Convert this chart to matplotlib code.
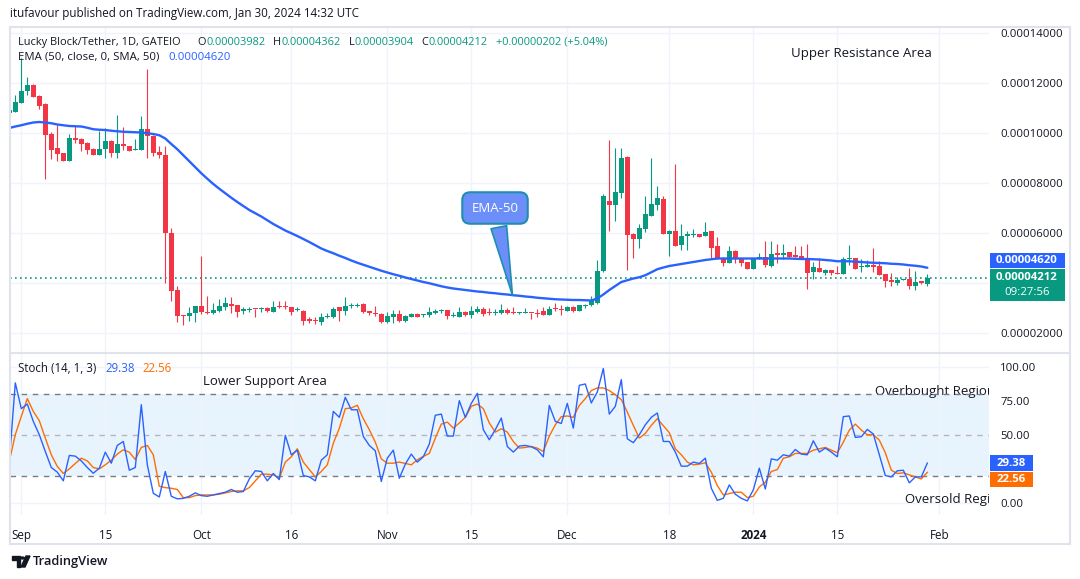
import matplotlib
matplotlib.use("Agg")
import matplotlib.pyplot as plt
import matplotlib.dates as mdates
from matplotlib.patches import Rectangle, Polygon, Circle
import numpy as np
import pandas as pd

plt.rcParams['font.family'] = ['Open Sans', 'DejaVu Sans']

# daily candles from 2023-08-30, prices in units of 1e-6 USDT
start_date = "2023-08-30"

opens = [
    108.2, 108.6,
    112.2, 117.0, 119.4, 114.9, 111.7, 99.6, 94.0, 92.0, 89.0, 98.0,
    97.7, 96.1, 93.8, 91.3, 93.7, 96.8, 92.1, 95.6, 94.8, 93.3,
    93.4, 101.9, 98.9, 92.4, 91.4, 60.0, 37.3, 27.2, 26.9, 28.3,
    31.0, 28.5, 28.0, 29.1, 30.7, 31.8, 31.2, 29.1, 29.4, 29.9,
    29.6, 30.2, 28.7, 30.7, 30.7, 30.4, 29.4, 29.1, 25.6, 25.3,
    24.7, 26.4, 26.4, 30.4, 29.1, 30.9, 31.0, 31.7, 28.9, 28.3, 27.7,
    24.7, 26.4, 27.7, 25.1, 26.7, 27.7, 27.3, 27.3, 28.3, 29.1,
    29.3, 26.9, 26.7, 28.5, 27.3, 28.5, 29.9, 28.5, 28.3, 28.3,
    29.3, 28.3, 28.0, 28.0, 28.3, 28.0, 29.1, 27.5, 29.9, 29.9,
    29.0, 30.6, 29.0, 30.9, 31.2, 32.3, 44.8, 72.8, 71.5, 76.2,
    90.4, 59.7, 57.9, 61.9, 66.9, 71.5, 73.9, 59.7, 61.1, 55.5,
    59.1, 59.2, 59.7, 58.9, 60.8, 54.9, 50.1, 48.0, 52.8, 50.1, 48.5,
    45.6, 49.6, 50.7, 46.9, 52.3, 51.5, 52.5, 51.2, 50.9, 49.6,
    44.5, 46.1, 44.3, 45.3, 44.3, 43.7, 49.9, 50.1, 46.4, 46.4,
    47.5, 46.9, 43.7, 41.3, 40.0, 41.3, 41.9, 38.9, 40.8, 39.82,
]
highs = [
    109.9, 115.3,
    130.0, 122.4, 119.7, 115.1, 111.9, 100.4, 103.1, 92.2, 99.6, 102.8,
    98.0, 96.4, 94.1, 100.9, 101.9, 97.2, 107.2, 102.3, 95.0, 97.5,
    106.8, 125.6, 99.2, 94.8, 95.0, 61.9, 38.9, 27.3, 30.7, 31.0,
    50.9, 35.0, 32.3, 33.6, 34.4, 34.4, 31.2, 30.4, 30.4, 29.9,
    30.4, 30.4, 33.1, 33.1, 33.1, 30.7, 30.7, 29.4, 26.4, 26.4,
    28.3, 28.3, 30.4, 30.7, 34.7, 32.0, 32.0, 32.0, 28.9, 30.9, 28.0,
    28.6, 29.3, 29.3, 27.3, 28.3, 28.3, 27.7, 30.4, 29.9, 29.9,
    29.3, 28.7, 30.4, 28.9, 30.9, 30.9, 30.4, 30.1, 29.6, 31.7,
    30.1, 30.7, 28.5, 30.0, 28.3, 29.9, 30.4, 30.9, 32.0, 31.3,
    30.9, 30.9, 31.4, 31.7, 34.9, 49.3, 75.7, 97.1, 94.1, 94.1,
    90.9, 60.0, 63.5, 74.9, 90.1, 78.9, 74.7, 61.3, 87.5, 63.7,
    61.0, 61.7, 59.7, 64.5, 60.8, 58.4, 50.7, 54.9, 53.1, 50.1, 48.5,
    49.9, 52.0, 56.8, 56.8, 55.7, 55.7, 52.5, 54.7, 54.7, 55.7,
    48.5, 50.1, 45.6, 45.3, 46.9, 50.7, 55.2, 50.1, 49.6, 49.3,
    53.9, 48.8, 43.7, 44.0, 42.4, 41.9, 46.1, 44.8, 40.8, 43.62,
]
lows = [
    107.9, 108.5,
    112.2, 115.1, 114.3, 109.8, 81.6, 89.8, 89.0, 89.0, 89.0, 96.1,
    92.9, 91.6, 91.3, 91.3, 90.1, 90.5, 90.1, 93.2, 92.8, 93.3,
    93.4, 90.1, 90.9, 90.2, 40.0, 33.0, 24.7, 23.3, 25.1, 24.7,
    27.8, 27.8, 27.8, 28.7, 29.4, 28.0, 26.7, 27.8, 28.7, 26.4,
    28.4, 28.7, 28.7, 30.0, 29.9, 27.2, 29.1, 23.3, 24.0, 23.7,
    23.3, 26.0, 26.0, 25.1, 27.3, 30.0, 30.6, 28.2, 27.3, 26.9, 24.0,
    24.3, 24.3, 24.7, 24.7, 26.4, 26.4, 26.4, 26.7, 27.7, 28.3,
    25.6, 26.7, 26.4, 26.9, 26.0, 28.0, 26.9, 27.2, 27.3, 27.7,
    27.7, 27.7, 27.7, 28.0, 25.6, 26.4, 27.2, 27.2, 29.1, 27.3,
    28.8, 28.6, 29.0, 30.1, 30.9, 31.7, 44.5, 60.7, 64.7, 74.1,
    45.3, 50.1, 54.1, 60.3, 66.7, 69.3, 59.7, 50.9, 54.9, 53.3,
    53.1, 58.4, 58.6, 58.9, 50.1, 49.6, 47.0, 48.0, 48.3, 46.9, 45.6,
    45.6, 49.6, 46.7, 46.7, 48.3, 49.9, 50.4, 50.7, 49.6, 37.9,
    41.6, 44.5, 43.5, 43.5, 43.7, 43.7, 47.5, 45.9, 44.5, 46.4,
    44.5, 43.5, 38.4, 39.1, 39.5, 41.3, 37.9, 37.3, 39.7, 39.04,
]
closes = [
    109.5, 112.5,
    116.8, 119.2, 114.6, 111.1, 99.2, 93.4, 91.7, 89.0, 98.0, 97.5,
    95.7, 93.2, 91.4, 93.8, 96.8, 92.1, 95.6, 95.0, 93.0, 93.6,
    101.9, 98.9, 92.1, 91.3, 60.1, 37.0, 26.9, 27.0, 28.0, 31.0,
    28.7, 28.3, 29.4, 31.0, 32.0, 31.0, 28.7, 29.6, 29.9, 29.6,
    30.0, 28.8, 30.5, 30.4, 30.4, 28.7, 29.6, 25.1, 25.1, 24.8,
    26.4, 26.7, 29.9, 29.1, 31.0, 31.4, 31.4, 28.7, 28.0, 27.7, 24.7,
    26.9, 27.7, 25.1, 26.9, 27.7, 26.7, 27.7, 28.5, 29.1, 29.3,
    26.9, 27.5, 28.5, 27.3, 29.1, 29.9, 27.7, 28.3, 28.5, 29.3,
    28.0, 28.0, 28.3, 28.3, 28.0, 27.7, 27.5, 29.6, 29.6, 29.3,
    30.6, 28.8, 31.4, 31.4, 32.8, 44.8, 74.9, 71.5, 76.5, 90.1,
    59.5, 57.9, 62.1, 67.7, 71.7, 73.9, 59.7, 61.1, 54.9, 58.9,
    59.5, 59.7, 58.7, 60.5, 54.1, 49.6, 48.0, 52.8, 49.6, 48.2, 45.6,
    49.9, 50.7, 47.5, 51.7, 51.5, 52.3, 50.7, 50.7, 49.6, 44.3,
    46.4, 44.5, 45.3, 44.3, 43.7, 49.6, 50.1, 45.9, 46.9, 47.5,
    46.7, 43.5, 41.1, 40.5, 41.3, 41.9, 38.9, 40.5, 40.1, 42.12,
]
ema50 = [
    102.1, 102.7,
    103.2, 103.8, 104.3, 104.5, 104.3, 104.0, 103.5, 103.2, 102.9, 102.8,
    102.7, 102.2, 101.6, 101.4, 101.3, 101.0, 100.8, 100.6, 100.5, 100.4,
    100.3, 100.0, 99.7, 99.2, 97.9, 95.7, 93.6, 91.2, 88.8, 86.4,
    84.0, 81.8, 79.7, 77.8, 76.0, 74.2, 72.5, 70.9, 69.3, 68.0,
    66.7, 65.2, 63.7, 62.4, 61.1, 60.0, 58.9, 57.7, 56.5, 55.2,
    53.9, 52.9, 52.0, 51.0, 50.1, 49.1, 48.2, 47.4, 46.6, 45.8, 45.0,
    44.3, 43.6, 43.0, 42.3, 41.7, 41.1, 40.5, 40.0, 39.4, 38.8,
    38.3, 37.9, 37.6, 37.3, 37.0, 36.7, 36.5, 36.2, 36.0, 35.7,
    35.5, 35.2, 35.0, 34.7, 34.5, 34.2, 34.0, 33.8, 33.6, 33.5,
    33.4, 33.3, 33.3, 33.2, 33.1, 33.9, 35.5, 37.3, 38.9, 40.5,
    41.2, 41.9, 42.4, 43.2, 44.4, 45.6, 46.3, 46.9, 47.3, 47.7,
    48.1, 48.5, 48.9, 49.3, 49.6, 49.9, 49.9, 49.9, 49.9, 49.9, 49.9,
    49.9, 49.9, 49.9, 49.9, 49.9, 49.9, 49.9, 49.8, 49.7, 49.7,
    49.6, 49.5, 49.3, 49.1, 48.8, 48.8, 48.8, 48.6, 48.5, 48.3,
    48.2, 48.1, 48.0, 47.8, 47.7, 47.5, 47.2, 47.0, 46.7, 46.20,
]
stoch_k = [
    30.6, 88.5,
    69.5, 72.9, 60.1, 50.3, 37.9, 26.1, 22.7, 16.3, 35.0, 34.5,
    31.0, 26.1, 21.9, 25.6, 37.4, 29.3, 42.4, 45.3, 24.1, 26.1,
    72.4, 28.1, 7.1, 4.4, 23.2, 4.9, 3.0, 3.4, 4.9, 7.4,
    5.4, 4.9, 5.9, 6.9, 7.9, 9.9, 7.9, 8.4, 17.7, 23.7,
    23.2, 16.3, 21.7, 17.2, 49.8, 35.5, 38.9, 20.2, 19.2, 16.3,
    31.5, 35.5, 67.5, 63.1, 77.9, 68.7, 68.7, 49.0, 42.4, 38.4, 15.8,
    33.0, 38.9, 18.2, 28.6, 36.0, 30.1, 34.0, 43.4, 64.6, 65.5,
    49.3, 49.3, 75.4, 63.1, 73.4, 80.8, 54.0, 46.6, 54.0, 62.6,
    41.6, 37.5, 41.9, 42.4, 41.4, 39.2, 34.0, 71.9, 60.1, 58.6,
    73.4, 55.2, 86.7, 87.7, 73.7, 81.8, 99.1, 65.5, 71.2, 90.9,
    47.3, 44.4, 50.3, 57.6, 63.1, 66.3, 45.3, 45.3, 37.5, 27.1,
    27.1, 30.1, 29.1, 33.0, 10.8, 1.9, 3.4, 13.3, 6.4, 3.4, 1.5,
    9.6, 25.6, 10.3, 32.5, 31.5, 35.5, 34.5, 39.4, 36.0, 35.5,
    45.8, 37.5, 40.4, 37.5, 34.0, 63.6, 64.1, 48.3, 48.8, 54.2,
    50.8, 35.5, 20.2, 19.2, 23.7, 24.1, 14.8, 19.2, 19.2, 29.38,
]
stoch_d = [
    30.6, 50.3,
    63.8, 76.9, 67.5, 60.6, 47.8, 35.5, 26.9, 21.7, 25.1, 29.1,
    33.0, 31.0, 26.1, 25.1, 28.1, 31.5, 36.0, 39.2, 37.4, 32.0,
    40.9, 42.4, 35.5, 12.3, 11.3, 10.8, 9.9, 3.9, 3.9, 5.4,
    5.9, 5.9, 5.9, 6.4, 7.4, 8.4, 8.9, 8.9, 11.3, 16.3,
    21.2, 21.2, 20.7, 18.2, 30.1, 34.0, 39.9, 30.1, 24.6, 19.2,
    23.2, 28.1, 44.0, 55.0, 69.5, 70.0, 72.0, 62.1, 54.0, 44.8, 32.5,
    29.3, 29.3, 30.1, 29.1, 28.1, 31.8, 34.3, 36.5, 47.8, 58.1,
    59.6, 55.2, 58.9, 63.1, 71.2, 72.9, 69.5, 58.9, 52.2, 54.7,
    52.2, 45.3, 40.4, 40.9, 41.6, 40.4, 37.9, 49.3, 57.6, 63.6,
    64.1, 63.1, 71.9, 76.9, 82.8, 84.8, 84.8, 82.8, 79.8, 76.1,
    67.0, 57.2, 47.8, 51.3, 57.2, 62.1, 57.0, 51.8, 39.9, 35.5,
    30.1, 28.1, 28.6, 29.6, 22.7, 12.8, 5.9, 6.9, 7.9, 7.9, 3.9,
    4.9, 11.8, 15.3, 23.2, 24.6, 33.0, 34.0, 36.5, 36.5, 36.5,
    38.9, 39.9, 40.9, 38.9, 37.0, 44.8, 53.7, 58.1, 53.7, 50.3,
    50.3, 46.3, 37.0, 24.1, 21.7, 22.2, 20.7, 19.2, 17.7, 22.56,
]

tick_dates = ["2023-09-01", "2023-09-15", "2023-10-01", "2023-10-16", "2023-11-01",
              "2023-11-15", "2023-12-01", "2023-12-18", "2024-01-01", "2024-01-15",
              "2024-02-01"]
tick_labels = ["Sep", "15", "Oct", "16", "Nov", "15", "Dec", "18", "2024", "15", "Feb"]
price_ticks = [20, 40, 60, 80, 100, 120, 140]
stoch_ticks = [0, 25, 50, 75, 100]

UP = "#089981"
DOWN = "#f23645"
BLUE = "#2962ff"
ORANGE = "#ff6d00"
TXT = "#131722"
GRID = "#f0f3fa"
BORDER = "#e0e3eb"
W, H = 1080, 579


def fx(px):
    return px / W


def fy(py):
    return 1 - py / H


def fmt_price(v):
    return f"{v / 1e6:.8f}"


def seg_text(fig, x_px, y_px, parts, size):
    # draw coloured pieces of text one after another, gap in pixels after each
    renderer = fig.canvas.get_renderer()
    x = x_px
    for s, col, gap in parts:
        t = fig.text(fx(x), fy(y_px), s, color=col, fontsize=size, va="center", ha="left")
        x += t.get_window_extent(renderer).width + gap


def box(fig, y_center, h_px, w_px, color):
    fig.patches.append(Rectangle((fx(990), (y_center - h_px / 2) / H), w_px / W, h_px / H,
                                 transform=fig.transFigure, color=color, lw=0))


fig = plt.figure(figsize=(W / 100, H / 100), dpi=100)
fig.patch.set_facecolor("white")

ax = fig.add_axes([fx(10), fy(352.5), fx(989) - fx(10), fy(27) - fy(352.5)])
ax2 = fig.add_axes([fx(10), fy(515), fx(989) - fx(10), fy(352.5) - fy(515)])

dates = pd.date_range(start_date, periods=len(opens), freq="D")
x = mdates.date2num(dates)
o = np.array(opens)
h = np.array(highs)
l = np.array(lows)
c = np.array(closes)
colors = np.where(c >= o, UP, DOWN)

sep1 = mdates.date2num(pd.Timestamp("2023-09-01"))
tick_x = mdates.date2num(pd.to_datetime(tick_dates))

for a in (ax, ax2):
    a.set_xlim(sep1 - 1.883, sep1 + 161.28)
    for s in a.spines.values():
        s.set_visible(False)
    a.set_xticks(tick_x)
    a.grid(color=GRID, lw=1)
    a.set_axisbelow(True)
    a.yaxis.tick_right()
    a.tick_params(axis="y", length=0, pad=8, labelsize=8.2, labelcolor=TXT)
    a.tick_params(axis="x", length=0)

# price pane
ax.set_ylim(12.3, 142.5)
ax.set_yticks(price_ticks)
ax.set_yticklabels([fmt_price(v) if v != 40 else "" for v in price_ticks])
ax.tick_params(axis="x", labelbottom=False)

ax.axhline(closes[-1], color=UP, lw=1.2, ls=(0, (1, 2)), zorder=1)
ax.vlines(x, l, h, colors=colors, lw=0.8, zorder=2)
ax.bar(x, np.maximum(np.abs(c - o), 0.4), bottom=np.minimum(o, c), width=0.75,
       color=colors, lw=0, zorder=3)
ax.plot(x, ema50, color=BLUE, lw=1.7, zorder=4, solid_capstyle="round")

# EMA-50 callout
ax.annotate("EMA-50", xy=(sep1 + 81.95, 34.1), xytext=(sep1 + 78.95, 70.1),
            ha="center", va="center", color="white", fontsize=9.5, zorder=6,
            bbox=dict(boxstyle="round,pad=0.7,rounding_size=0.6", fc="#6b8ef9", ec="#1e8fb0", lw=1.5),
            arrowprops=dict(arrowstyle="wedge,tail_width=1.2,shrink_factor=0.5",
                            fc="#6b8ef9", ec="#1e8fb0", lw=1.2))

# stochastic pane
ax2.set_ylim(-8.9, 110.9)
ax2.set_yticks(stoch_ticks)
ax2.set_yticklabels([f"{v:.2f}" if v != 25 else "" for v in stoch_ticks])
ax2.set_xticklabels(tick_labels)
ax2.tick_params(axis="x", pad=10, labelsize=8.4, labelcolor=TXT)
for lab in ax2.get_xticklabels():
    if lab.get_text() == "2024":
        lab.set_fontweight("bold")

ax2.axhspan(20, 80, color="#2196f3", alpha=0.1, lw=0, zorder=0)
ax2.axhline(80, color="#787b86", lw=1, ls=(0, (4, 4)), zorder=2)
ax2.axhline(20, color="#787b86", lw=1, ls=(0, (4, 4)), zorder=2)
ax2.axhline(50, color="#787b86", lw=1, ls=(0, (4, 4)), alpha=0.5, zorder=2)
ax2.plot(x, stoch_k, color=BLUE, lw=1.0, zorder=4)
ax2.plot(x, stoch_d, color=ORANGE, lw=1.0, zorder=3)

# region labels, cut off by the price scale as in the original
ax2.text(sep1 + 142.3, 82, "Overbought Region", fontsize=9.5, color=TXT,
         va="center", ha="left", clip_on=True, zorder=1)
ax2.text(sep1 + 147.3, 2.2, "Oversold Regi", fontsize=9.5, color=TXT,
         va="center", ha="left", clip_on=True, zorder=1)

# frame lines
for (x0, y0, x1, y1) in [(10, 27, 1070, 27), (10, 544, 1070, 544), (10, 352.5, 1070, 352.5),
                         (10, 27, 10, 544), (1070, 27, 1070, 544)]:
    fig.add_artist(plt.Line2D([fx(x0), fx(x1)], [fy(y0), fy(y1)], color=BORDER, lw=1.5))

# header and legends
fig.text(fx(10), fy(14), "itufavour published on TradingView.com, Jan 30, 2024 14:32 UTC",
         fontsize=8.4, color=TXT, va="center", ha="left")
chg = closes[-1] - closes[-2]
seg_text(fig, 18, 42.5, [
    ("Lucky Block/Tether, 1D, GATEIO", TXT, 17), ("O", TXT, 0), (fmt_price(opens[-1]), UP, 8),
    ("H", TXT, 0), (fmt_price(highs[-1]), UP, 8),
    ("L", TXT, 0), (fmt_price(lows[-1]), UP, 8),
    ("C", TXT, 0), (fmt_price(closes[-1]), UP, 8),
    (f"+{fmt_price(chg)} (+{chg / closes[-2] * 100:.2f}%)", UP, 0)], 7.95)
seg_text(fig, 18, 57, [("EMA (50, close, 0, SMA, 50)", TXT, 9), (fmt_price(ema50[-1]), BLUE, 0)], 8.2)
seg_text(fig, 18, 368, [("Stoch (14, 1, 3)", TXT, 9), (f"{stoch_k[-1]:.2f}", BLUE, 8),
                        (f"{stoch_d[-1]:.2f}", ORANGE, 0)], 8.3)

fig.text(fx(791), fy(53), "Upper Resistance Area", fontsize=9.5, color=TXT, va="center")
fig.text(fx(203), fy(382), "Lower Support Area", fontsize=9.5, color=TXT, va="center")

# right scale labels: price box on the close, EMA box stacked above it
yc = ax.transData.transform((0, closes[-1]))[1]
box(fig, yc - 7.0, 31.5, 75, UP)
fig.text(fx(1027), yc / H, fmt_price(closes[-1]), color="white", fontsize=8.2,
         va="center", ha="center", fontweight="bold")
fig.text(fx(1027), (yc - 14.5) / H, "09:27:56", color="white", fontsize=8.2,
         va="center", ha="center")
ye = yc + 8.75 + 1 + 7.5
box(fig, ye, 15, 75, BLUE)
fig.text(fx(1027), ye / H, fmt_price(ema50[-1]), color="white",
         fontsize=8.2, va="center", ha="center", fontweight="bold")

yk = ax2.transData.transform((0, stoch_k[-1]))[1]
box(fig, yk, 15.5, 43, BLUE)
fig.text(fx(1011.5), yk / H, f"{stoch_k[-1]:.2f}", color="white", fontsize=8.2,
         va="center", ha="center", fontweight="bold")
yd = yk - 16.5
box(fig, yd, 15.5, 43, ORANGE)
fig.text(fx(1011.5), yd / H, f"{stoch_d[-1]:.2f}", color="white", fontsize=8.2,
         va="center", ha="center", fontweight="bold")

# TradingView logo
fig.patches.append(Polygon([(fx(12), fy(556)), (fx(20), fy(556)), (fx(20), fy(567)),
                            (fx(16.5), fy(567)), (fx(16.5), fy(559.5)), (fx(12), fy(559.5))],
                           closed=True, transform=fig.transFigure, color=TXT))
fig.patches.append(Circle((fx(22.5), fy(558)), 1.8 / W, transform=fig.transFigure, color=TXT))
fig.patches.append(Polygon([(fx(21), fy(567)), (fx(26), fy(556)), (fx(30), fy(556)),
                            (fx(25), fy(567))], closed=True, transform=fig.transFigure, color=TXT))
fig.text(fx(33), fy(562), "TradingView", fontsize=9.3, color=TXT, va="center",
         fontweight="semibold")

fig.savefig("out.png", dpi=100)
